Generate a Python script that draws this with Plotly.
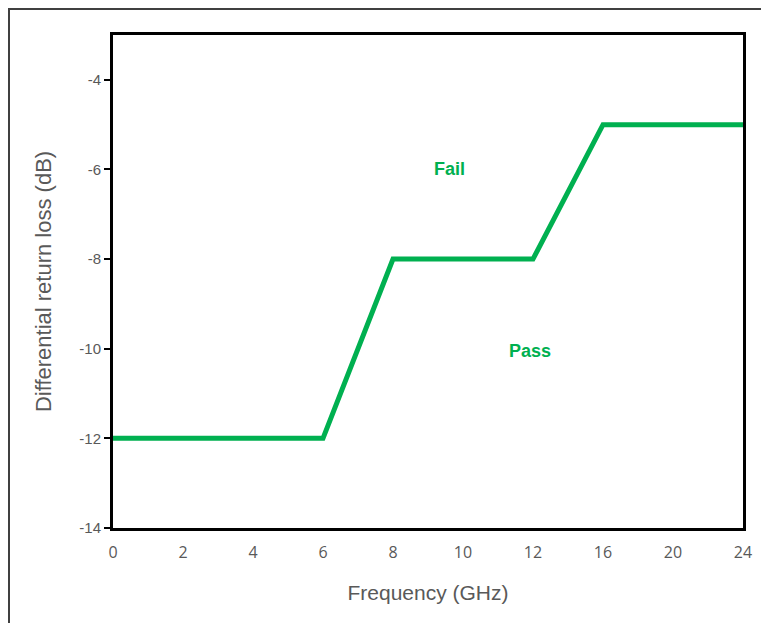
import plotly.graph_objects as go

tick_labels = ["0", "2", "4", "6", "8", "10", "12", "16", "20", "24"]
freq_ghz = [0, 6, 8, 12, 16, 24]
loss_db = [-12, -12, -8, -8, -5, -5]
y_ticks = [-4, -6, -8, -10, -12, -14]

pos = [tick_labels.index(str(f)) for f in freq_ghz]

GREEN = "#00B050"
GRAY = "#595959"

fig = go.Figure()
fig.add_trace(go.Scatter(x=pos, y=loss_db, mode="lines",
                         line=dict(color=GREEN, width=5), showlegend=False,
                         cliponaxis=False))

fig.add_annotation(x=4.8, y=-6, text="<b>Fail</b>", showarrow=False,
                   font=dict(family="Liberation Sans, Arial", size=18, color=GREEN))
fig.add_annotation(x=5.95, y=-10.05, text="<b>Pass</b>", showarrow=False,
                   font=dict(family="Liberation Sans, Arial", size=18, color=GREEN))

# page body has an 8px margin; size the figure to fit
W, H = 761, 615
L, R, T, B = 105, 26, 27, 95
pw, ph = W - L - R, H - T - B
fig.add_shape(type="rect", xref="paper", yref="paper",
              x0=(1 - L) / pw, x1=(W + 20 - L) / pw,
              y0=(H - B - (H + 20)) / ph, y1=(H - B - 1) / ph,
              line=dict(color="#404040", width=2), layer="above")

fig.update_layout(
    width=W, height=H,
    margin=dict(l=L, r=R, t=T, b=B),
    paper_bgcolor="white", plot_bgcolor="white",
    font=dict(family="Liberation Sans, Arial", color=GRAY),
    xaxis=dict(range=[0, 9], tickmode="array", tickvals=list(range(len(tick_labels))),
               ticktext=tick_labels, showgrid=False, zeroline=False,
               showline=True, linecolor="black", linewidth=3, mirror=True,
               ticks="", ticklabelstandoff=8,
               tickfont=dict(family="Open Sans, Liberation Sans", size=16, color=GRAY),
               title=dict(text="Frequency (GHz)", standoff=24,
                          font=dict(size=21, color=GRAY))),
    yaxis=dict(range=[-14, -3], tickmode="array", tickvals=y_ticks,
               ticktext=[str(v) for v in y_ticks],
               showgrid=False, zeroline=False,
               showline=True, linecolor="black", linewidth=3, mirror=True,
               ticks="outside", ticklen=6, tickcolor="black", tickwidth=1.5,
               tickfont=dict(size=15, color=GRAY),
               title=dict(text="Differential return loss (dB)", standoff=22,
                          font=dict(size=22, color=GRAY))),
)

fig.write_html("out.html")
